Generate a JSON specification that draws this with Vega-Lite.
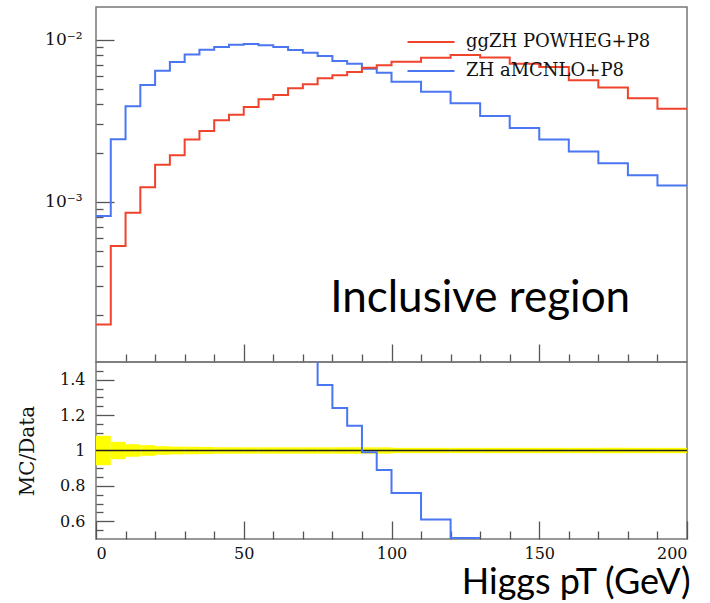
{
  "$schema": "https://vega.github.io/schema/vega-lite/v6.json",
  "padding": {"left": 16, "top": 6, "right": 0, "bottom": 0},
  "spacing": 0,
  "bounds": "flush",
  "config": {
    "view": {"stroke": "#777777", "strokeWidth": 1.5},
    "concat": {"spacing": 0},
    "axis": {
      "domain": false, "grid": false, "tickColor": "#555555", "tickWidth": 1.3,
      "labelFont": "DejaVu Serif", "labelFontSize": 16, "labelColor": "#111111",
      "titleFont": "DejaVu Serif", "titleFontWeight": "normal", "titleColor": "#111111"
    }
  },
  "datasets": {
    "hist": [
      {"pt": 0, "val": 0.000817, "series": "ZH aMCNLO+P8"},
      {"pt": 5, "val": 0.00243, "series": "ZH aMCNLO+P8"},
      {"pt": 10, "val": 0.00388, "series": "ZH aMCNLO+P8"},
      {"pt": 15, "val": 0.00525, "series": "ZH aMCNLO+P8"},
      {"pt": 20, "val": 0.00644, "series": "ZH aMCNLO+P8"},
      {"pt": 25, "val": 0.00728, "series": "ZH aMCNLO+P8"},
      {"pt": 30, "val": 0.00812, "series": "ZH aMCNLO+P8"},
      {"pt": 35, "val": 0.00867, "series": "ZH aMCNLO+P8"},
      {"pt": 40, "val": 0.00902, "series": "ZH aMCNLO+P8"},
      {"pt": 45, "val": 0.00931, "series": "ZH aMCNLO+P8"},
      {"pt": 50, "val": 0.0094, "series": "ZH aMCNLO+P8"},
      {"pt": 55, "val": 0.00923, "series": "ZH aMCNLO+P8"},
      {"pt": 60, "val": 0.00902, "series": "ZH aMCNLO+P8"},
      {"pt": 65, "val": 0.00864, "series": "ZH aMCNLO+P8"},
      {"pt": 70, "val": 0.00831, "series": "ZH aMCNLO+P8"},
      {"pt": 75, "val": 0.00793, "series": "ZH aMCNLO+P8"},
      {"pt": 80, "val": 0.0074, "series": "ZH aMCNLO+P8"},
      {"pt": 85, "val": 0.00712, "series": "ZH aMCNLO+P8"},
      {"pt": 90, "val": 0.00662, "series": "ZH aMCNLO+P8"},
      {"pt": 95, "val": 0.00625, "series": "ZH aMCNLO+P8"},
      {"pt": 100, "val": 0.00551, "series": "ZH aMCNLO+P8"},
      {"pt": 110, "val": 0.00478, "series": "ZH aMCNLO+P8"},
      {"pt": 120, "val": 0.00405, "series": "ZH aMCNLO+P8"},
      {"pt": 130, "val": 0.00338, "series": "ZH aMCNLO+P8"},
      {"pt": 140, "val": 0.00285, "series": "ZH aMCNLO+P8"},
      {"pt": 150, "val": 0.00242, "series": "ZH aMCNLO+P8"},
      {"pt": 160, "val": 0.00204, "series": "ZH aMCNLO+P8"},
      {"pt": 170, "val": 0.00173, "series": "ZH aMCNLO+P8"},
      {"pt": 180, "val": 0.00146, "series": "ZH aMCNLO+P8"},
      {"pt": 190, "val": 0.00126, "series": "ZH aMCNLO+P8"},
      {"pt": 200, "val": 0.00126, "series": "ZH aMCNLO+P8"},
      {"pt": 0, "val": 0.000175, "series": "ggZH POWHEG+P8"},
      {"pt": 5, "val": 0.000533, "series": "ggZH POWHEG+P8"},
      {"pt": 10, "val": 0.000856, "series": "ggZH POWHEG+P8"},
      {"pt": 15, "val": 0.00123, "series": "ggZH POWHEG+P8"},
      {"pt": 20, "val": 0.00169, "series": "ggZH POWHEG+P8"},
      {"pt": 25, "val": 0.00194, "series": "ggZH POWHEG+P8"},
      {"pt": 30, "val": 0.00242, "series": "ggZH POWHEG+P8"},
      {"pt": 35, "val": 0.00273, "series": "ggZH POWHEG+P8"},
      {"pt": 40, "val": 0.00319, "series": "ggZH POWHEG+P8"},
      {"pt": 45, "val": 0.00344, "series": "ggZH POWHEG+P8"},
      {"pt": 50, "val": 0.00385, "series": "ggZH POWHEG+P8"},
      {"pt": 55, "val": 0.00429, "series": "ggZH POWHEG+P8"},
      {"pt": 60, "val": 0.00456, "series": "ggZH POWHEG+P8"},
      {"pt": 65, "val": 0.00501, "series": "ggZH POWHEG+P8"},
      {"pt": 70, "val": 0.00531, "series": "ggZH POWHEG+P8"},
      {"pt": 75, "val": 0.00578, "series": "ggZH POWHEG+P8"},
      {"pt": 80, "val": 0.00603, "series": "ggZH POWHEG+P8"},
      {"pt": 85, "val": 0.00632, "series": "ggZH POWHEG+P8"},
      {"pt": 90, "val": 0.00672, "series": "ggZH POWHEG+P8"},
      {"pt": 95, "val": 0.00695, "series": "ggZH POWHEG+P8"},
      {"pt": 100, "val": 0.00732, "series": "ggZH POWHEG+P8"},
      {"pt": 110, "val": 0.00774, "series": "ggZH POWHEG+P8"},
      {"pt": 120, "val": 0.00805, "series": "ggZH POWHEG+P8"},
      {"pt": 130, "val": 0.00776, "series": "ggZH POWHEG+P8"},
      {"pt": 140, "val": 0.00711, "series": "ggZH POWHEG+P8"},
      {"pt": 150, "val": 0.00678, "series": "ggZH POWHEG+P8"},
      {"pt": 160, "val": 0.00562, "series": "ggZH POWHEG+P8"},
      {"pt": 170, "val": 0.00507, "series": "ggZH POWHEG+P8"},
      {"pt": 180, "val": 0.00435, "series": "ggZH POWHEG+P8"},
      {"pt": 190, "val": 0.00375, "series": "ggZH POWHEG+P8"},
      {"pt": 200, "val": 0.00375, "series": "ggZH POWHEG+P8"}
    ],
    "ratio": [
      {"pt": 70, "r": 1.56},
      {"pt": 75, "r": 1.37},
      {"pt": 80, "r": 1.24},
      {"pt": 85, "r": 1.14},
      {"pt": 90, "r": 0.99},
      {"pt": 95, "r": 0.89},
      {"pt": 100, "r": 0.76},
      {"pt": 110, "r": 0.61},
      {"pt": 120, "r": 0.505},
      {"pt": 130, "r": 0.505}
    ],
    "band": [
      {"x0": 0, "x1": 5, "lo": 0.917, "hi": 1.083},
      {"x0": 5, "x1": 10, "lo": 0.951, "hi": 1.049},
      {"x0": 10, "x1": 15, "lo": 0.964, "hi": 1.036},
      {"x0": 15, "x1": 20, "lo": 0.970, "hi": 1.030},
      {"x0": 20, "x1": 25, "lo": 0.976, "hi": 1.024},
      {"x0": 25, "x1": 30, "lo": 0.978, "hi": 1.022},
      {"x0": 30, "x1": 35, "lo": 0.979, "hi": 1.021},
      {"x0": 35, "x1": 40, "lo": 0.980, "hi": 1.020},
      {"x0": 40, "x1": 45, "lo": 0.981, "hi": 1.019},
      {"x0": 45, "x1": 50, "lo": 0.982, "hi": 1.018},
      {"x0": 50, "x1": 55, "lo": 0.982, "hi": 1.018},
      {"x0": 55, "x1": 60, "lo": 0.982, "hi": 1.018},
      {"x0": 60, "x1": 65, "lo": 0.982, "hi": 1.018},
      {"x0": 65, "x1": 70, "lo": 0.982, "hi": 1.018},
      {"x0": 70, "x1": 75, "lo": 0.982, "hi": 1.018},
      {"x0": 75, "x1": 80, "lo": 0.982, "hi": 1.018},
      {"x0": 80, "x1": 85, "lo": 0.982, "hi": 1.018},
      {"x0": 85, "x1": 90, "lo": 0.982, "hi": 1.018},
      {"x0": 90, "x1": 95, "lo": 0.982, "hi": 1.018},
      {"x0": 95, "x1": 100, "lo": 0.982, "hi": 1.018},
      {"x0": 100, "x1": 110, "lo": 0.985, "hi": 1.015},
      {"x0": 110, "x1": 120, "lo": 0.985, "hi": 1.015},
      {"x0": 120, "x1": 130, "lo": 0.985, "hi": 1.015},
      {"x0": 130, "x1": 140, "lo": 0.985, "hi": 1.015},
      {"x0": 140, "x1": 150, "lo": 0.985, "hi": 1.015},
      {"x0": 150, "x1": 160, "lo": 0.985, "hi": 1.015},
      {"x0": 160, "x1": 170, "lo": 0.985, "hi": 1.015},
      {"x0": 170, "x1": 180, "lo": 0.985, "hi": 1.015},
      {"x0": 180, "x1": 190, "lo": 0.985, "hi": 1.015},
      {"x0": 190, "x1": 200, "lo": 0.985, "hi": 1.015}
    ]
  },
  "vconcat": [
    {
      "width": 591,
      "height": 355,
      "layer": [
        {
          "data": {"name": "hist"},
          "mark": {"type": "line", "interpolate": "step-after", "strokeWidth": 2, "clip": true},
          "encoding": {
            "x": {"field": "pt", "type": "quantitative",
              "scale": {"domain": [0, 200], "nice": false, "zero": false},
              "axis": {"orient": "bottom", "values": [50, 100, 150], "labels": false, "tickSize": -18, "title": null}},
            "y": {"field": "val", "type": "quantitative",
              "scale": {"type": "log", "domain": [0.0001026, 0.01592], "nice": false},
              "axis": {"orient": "left", "values": [0.001, 0.01], "labelExpr": "datum.value < 0.005 ? '10⁻³' : '10⁻²'", "tickSize": -18, "labelPadding": 32, "labelFontSize": 17, "title": null}},
            "color": {"field": "series", "type": "nominal",
              "scale": {"domain": ["ggZH POWHEG+P8", "ZH aMCNLO+P8"], "range": ["#f0432c", "#4a76f2"]},
              "legend": {"orient": "none", "legendX": 326, "legendY": 26, "title": null,
                "symbolType": "M-4,0H4", "symbolSize": 138, "symbolStrokeWidth": 2,
                "labelFont": "DejaVu Serif", "labelFontSize": 18, "labelColor": "#111111", "labelLimit": 0,
                "labelOffset": 26, "rowPadding": 11}}
          }
        },
        {
          "data": {"values": [{"label": "Inclusive region"}]},
          "mark": {"type": "text", "font": "Lato", "fontSize": 44, "align": "center", "baseline": "middle", "color": "#000000"},
          "encoding": {
            "x": {"datum": 130, "type": "quantitative",
              "axis": {"orient": "bottom", "values": [10, 20, 30, 40, 60, 70, 80, 90, 110, 120, 130, 140, 160, 170, 180, 190], "labels": false, "tickSize": -8, "title": null}},
            "y": {"datum": 0.00025, "type": "quantitative",
              "axis": {"orient": "left", "values": [0.0002, 0.0003, 0.0004, 0.0005, 0.0006, 0.0007, 0.0008, 0.0009, 0.002, 0.003, 0.004, 0.005, 0.006, 0.007, 0.008, 0.009], "labels": false, "tickSize": -7, "title": null}},
            "text": {"field": "label"}
          }
        }
      ],
      "resolve": {"axis": {"x": "independent", "y": "independent"}}
    },
    {
      "width": 591,
      "height": 177,
      "layer": [
        {
          "data": {"name": "band"},
          "mark": {"type": "rect", "color": "#ffff00"},
          "encoding": {
            "x": {"field": "x0", "type": "quantitative",
              "scale": {"domain": [0, 200], "nice": false, "zero": false},
              "axis": {"orient": "bottom", "values": [0, 50, 100, 150, 200], "tickSize": -18, "labelPadding": 24,
                "title": "Higgs pT (GeV)", "titleFont": "Lato", "titleFontSize": 36, "titleColor": "#000000",
                "titleAnchor": null, "titleAlign": "right", "titleBaseline": "alphabetic", "titleX": 594, "titleY": 54}},
            "x2": {"field": "x1"},
            "y": {"field": "lo", "type": "quantitative",
              "scale": {"domain": [0.5, 1.5], "nice": false, "zero": false},
              "axis": {"orient": "left", "values": [0.6, 0.8, 1, 1.2, 1.4], "format": "~g", "tickSize": -18, "labelPadding": 29,
                "title": "MC/Data", "titleFontSize": 20, "titlePadding": 22}},
            "y2": {"field": "hi"}
          }
        },
        {
          "data": {"values": [{"ref": 1}]},
          "mark": {"type": "rule", "color": "#222222", "strokeWidth": 1.5},
          "encoding": {
            "y": {"field": "ref", "type": "quantitative", "axis": null}
          }
        },
        {
          "data": {"name": "ratio"},
          "mark": {"type": "line", "interpolate": "step-after", "color": "#4a76f2", "strokeWidth": 2, "clip": true},
          "encoding": {
            "x": {"field": "pt", "type": "quantitative",
              "axis": {"orient": "bottom", "values": [10, 20, 30, 40, 60, 70, 80, 90, 110, 120, 130, 140, 160, 170, 180, 190], "labels": false, "tickSize": -8, "title": null}},
            "y": {"field": "r", "type": "quantitative",
              "axis": {"orient": "left", "values": [0.55, 0.65, 0.7, 0.75, 0.85, 0.9, 0.95, 1.05, 1.1, 1.15, 1.25, 1.3, 1.35, 1.45], "labels": false, "tickSize": -7, "title": null}}
          }
        }
      ],
      "resolve": {"axis": {"x": "independent", "y": "independent"}}
    }
  ]
}
